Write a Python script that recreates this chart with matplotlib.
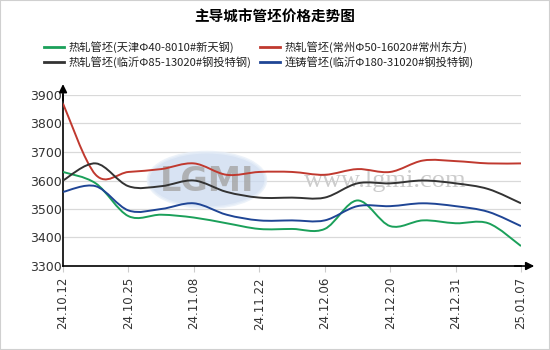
import matplotlib.pyplot as plt
from matplotlib.path import Path
from matplotlib.patches import PathPatch, Ellipse
import numpy as np

plt.rcParams['font.family'] = ['Noto Sans CJK SC', 'DejaVu Sans']

title = '主导城市管坯价格走势图'
tick_labels = ['24.10.12', '24.10.25', '24.11.08', '24.11.22',
               '24.12.06', '24.12.20', '24.12.31', '25.01.07']
names = ['热轧管坯(天津Φ40-8010#新天钢)', '热轧管坯(常州Φ50-16020#常州东方)',
         '热轧管坯(临沂Φ85-13020#钢投特钢)', '连铸管坯(临沂Φ180-31020#钢投特钢)']
tianjin = [3630, 3590, 3475, 3480, 3470, 3450, 3430, 3430, 3430, 3530, 3440, 3460, 3450, 3450, 3370]
changzhou = [3870, 3620, 3630, 3640, 3660, 3620, 3630, 3630, 3620, 3640, 3630, 3670, 3668, 3660, 3660]
linyi85 = [3600, 3660, 3580, 3580, 3600, 3560, 3540, 3540, 3540, 3590, 3590, 3600, 3590, 3570, 3520]
linyi180 = [3560, 3580, 3495, 3500, 3520, 3480, 3460, 3460, 3460, 3510, 3510, 3520, 3510, 3490, 3440]
colors = ['#1ba05a', '#c0392f', '#333333', '#1f4595']


def smooth_path(x, y):
    # Catmull-Rom curve as cubic Bezier segments
    x = np.asarray(x, float)
    y = np.asarray(y, float)
    pts = np.column_stack([x, y])
    verts = [pts[0]]
    codes = [Path.MOVETO]
    n = len(pts)
    for i in range(n - 1):
        p0 = pts[max(i - 1, 0)]
        p1 = pts[i]
        p2 = pts[i + 1]
        p3 = pts[min(i + 2, n - 1)]
        verts += [p1 + (p2 - p0) / 6, p2 - (p3 - p1) / 6, p2]
        codes += [Path.CURVE4] * 3
    return Path(verts, codes)


fig = plt.figure(figsize=(5.5, 3.5), dpi=100)
ax = fig.add_axes([63 / 550, 1 - 266 / 350, (521 - 63) / 550, (266 - 95) / 350])

xs = np.arange(len(tianjin))
series = [tianjin, changzhou, linyi85, linyi180]

# watermark
ax.add_patch(Ellipse((4.4, 3602), 3.6, 195, facecolor='#cbdaf0', edgecolor='#e6eef8',
                     lw=2, alpha=0.75, zorder=1))
ax.text(4.4, 3598, 'LGMI', fontsize=24, fontweight='bold', color='#a5a5a5',
        ha='center', va='center', family='DejaVu Sans', alpha=0.8, zorder=1)
ax.text(9.85, 3598, 'www.lgmi.com', fontsize=19, color='#cccccc',
        ha='center', va='center', family='Liberation Serif', zorder=1)

for vals, c in zip(series, colors):
    ax.add_patch(PathPatch(smooth_path(xs, vals), facecolor='none', edgecolor=c,
                           lw=1.4, zorder=3))
    ax.plot(xs, vals, color=c, lw=0, alpha=0)

ax.set_xlim(0, 14)
ax.set_ylim(3300, 3900)
ax.set_yticks(range(3300, 3901, 100))
ax.set_xticks(range(0, 15, 2))
ax.set_xticklabels(tick_labels, rotation=90, fontsize=8.5, color='#333333',
                   family='DejaVu Sans')
ax.tick_params(axis='x', length=4, color='#cccccc', pad=4)
ax.tick_params(axis='y', length=0, labelsize=9, labelcolor='#333333', pad=1)
for lab in ax.get_yticklabels():
    lab.set_family('DejaVu Sans')
ax.grid(axis='y', color='#d9d9d9', lw=0.9)
ax.set_axisbelow(True)
for s in ['top', 'right']:
    ax.spines[s].set_visible(False)
ax.spines['left'].set_linewidth(1.2)
ax.spines['bottom'].set_linewidth(1.2)
ax.spines['left'].set_bounds(3300, 3900)

# axis arrows
ax.annotate('', xy=(0, 1.08), xytext=(0, 0.95), xycoords='axes fraction',
            arrowprops=dict(arrowstyle='-|>', color='black', lw=1.2, mutation_scale=12),
            annotation_clip=False)
ax.annotate('', xy=(1.035, 0), xytext=(0.98, 0), xycoords='axes fraction',
            arrowprops=dict(arrowstyle='-|>', color='black', lw=1.2, mutation_scale=12),
            annotation_clip=False)

fig.text(0.5, 1 - 17 / 350, title, ha='center', va='center', fontsize=10.5,
         fontweight='bold')

# legend
leg_pos = [(44, 47), (260, 47), (44, 62), (260, 62)]
for (lx, ly), name, c in zip(leg_pos, names, colors):
    fig.add_artist(plt.Line2D([lx / 550, (lx + 20) / 550], [1 - ly / 350] * 2,
                              color=c, lw=2))
    fig.text((lx + 25) / 550, 1 - ly / 350, name, ha='left', va='center',
             fontsize=8.1, color='#222222')

fig.add_artist(plt.Rectangle((0, 0), 1, 1, transform=fig.transFigure,
                             fill=False, edgecolor='#d0d0d0', lw=1.5))

fig.savefig('out.png', dpi=100)
